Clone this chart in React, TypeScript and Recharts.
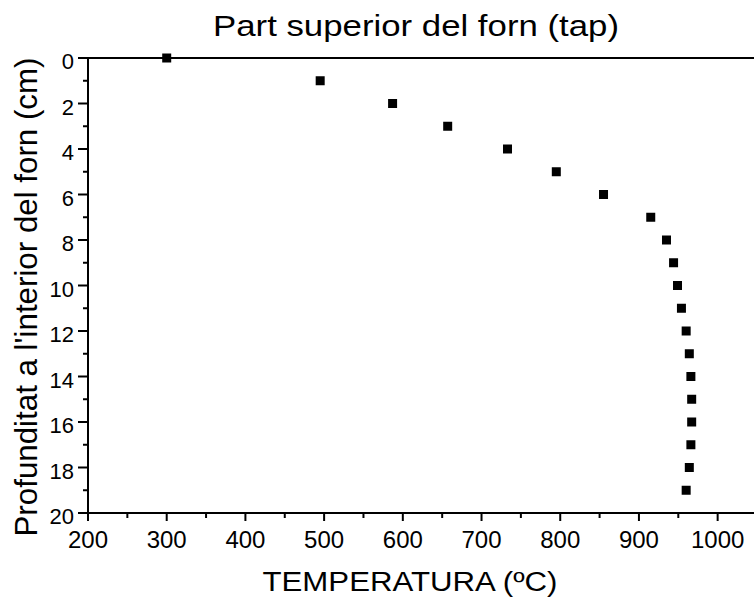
import React from "react";
import {
  ScatterChart,
  Scatter,
  XAxis,
  YAxis,
  ReferenceLine,
} from "recharts";

// depth inside the kiln (cm) and temperature read at that depth (ºC)
const depths = [0, 1, 2, 3, 4, 5, 6, 7, 8, 9, 10, 11, 12, 13, 14, 15, 16, 17, 18, 19];
const temperatures = [
  300, 495, 587, 657, 733, 795, 855, 915, 935, 944, 949, 954, 960, 964, 966, 967, 967, 966, 964, 960,
];

const xTicks = [200, 250, 300, 350, 400, 450, 500, 550, 600, 650, 700, 750, 800, 850, 900, 950, 1000, 1050];
const xLabels = [200, 300, 400, 500, 600, 700, 800, 900, 1000];
const yTicks = [0, 1, 2, 3, 4, 5, 6, 7, 8, 9, 10, 11, 12, 13, 14, 15, 16, 17, 18, 19, 20];
const yLabels = [0, 2, 4, 6, 8, 10, 12, 14, 16, 18, 20];

const title = "Part superior del forn (tap)";
const xTitle = "TEMPERATURA (ºC)";
const yTitle = "Profunditat a l'interior del forn (cm)";

const FONT = "'Liberation Sans', Arial, sans-serif";

const points = depths.map((d, i) => ({ depth: d, temp: temperatures[i] }));

const YTick = (props: any) => {
  const { x, y, payload } = props;
  const axisX = x + 5 + 9;
  const major = yLabels.includes(payload.value);
  return (
    <g>
      <line x1={axisX - (major ? 10 : 5)} x2={axisX} y1={y} y2={y} stroke="#000" strokeWidth={2} />
      {major && (
        <text x={x} y={y + 11} textAnchor="end" fontSize={22} fontFamily={FONT} fill="#000">
          {payload.value}
        </text>
      )}
    </g>
  );
};

const XTick = (props: any) => {
  const { x, y, payload } = props;
  const axisY = y - 8 - 9;
  const major = xLabels.includes(payload.value);
  return (
    <g>
      <line x1={x} x2={x} y1={axisY} y2={axisY + (major ? 8 : 5)} stroke="#000" strokeWidth={2} />
      {major && (
        <text x={x} y={y + 18} textAnchor="middle" fontSize={24} fontFamily={FONT} fill="#000">
          {payload.value}
        </text>
      )}
    </g>
  );
};

const Square = (props: any) => {
  const { cx, cy } = props;
  return <rect x={cx - 4.5} y={cy - 4.5} width={9} height={9} fill="#000" />;
};

export default function App() {
  return (
    <div
      style={{
        position: "fixed",
        left: 0,
        top: 0,
        width: 754,
        height: 598,
        overflow: "hidden",
        background: "#fff",
      }}
    >
      <ScatterChart width={760} height={598} margin={{ top: 58, right: 3, bottom: 0, left: 0 }}>
        <XAxis
          type="number"
          dataKey="temp"
          domain={[200, 1050]}
          ticks={xTicks}
          interval={0}
          height={85}
          tickSize={8}
          tickMargin={9}
          tickLine={false}
          axisLine={{ stroke: "#000", strokeWidth: 2 }}
          tick={<XTick />}
        />
        <YAxis
          type="number"
          dataKey="depth"
          domain={[0, 20]}
          reversed
          ticks={yTicks}
          interval={0}
          width={88}
          tickSize={9}
          tickMargin={5}
          tickLine={false}
          axisLine={{ stroke: "#000", strokeWidth: 2 }}
          tick={<YTick />}
        />
        <ReferenceLine y={0} stroke="#000" strokeWidth={2} />
        <Scatter data={points} fill="#000" shape={<Square />} isAnimationActive={false} />
      </ScatterChart>
      <svg
        width={754}
        height={598}
        style={{ position: "absolute", left: 0, top: 0, pointerEvents: "none" }}
        fontFamily={FONT}
      >
        <text x={416} y={36} textAnchor="middle" fontSize={29} textLength={406} lengthAdjust="spacingAndGlyphs">
          {title}
        </text>
        <text x={410} y={591} textAnchor="middle" fontSize={27} textLength={295} lengthAdjust="spacingAndGlyphs">
          {xTitle}
        </text>
        <text
          transform="translate(37 297) rotate(-90)"
          textAnchor="middle"
          fontSize={31}
          textLength={479}
          lengthAdjust="spacingAndGlyphs"
        >
          {yTitle}
        </text>
      </svg>
    </div>
  );
}
